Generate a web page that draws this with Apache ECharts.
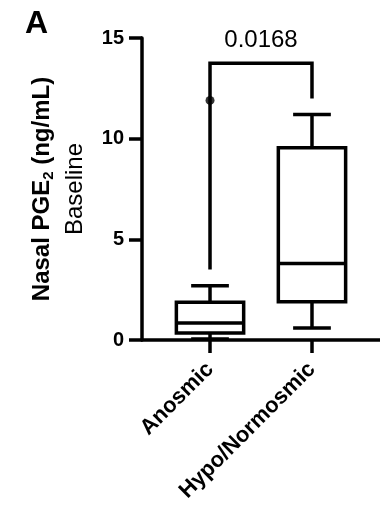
<!DOCTYPE html>
<html>
<head>
<meta charset="utf-8">
<script src="https://cdn.jsdelivr.net/npm/echarts@6/dist/echarts.min.js"></script>
<style>
  html, body { margin: 0; padding: 0; background: #fff; }
  #chart { width: 380px; height: 506px; }
</style>
</head>
<body>
<div id="chart"></div>
<script>
// groups on the x axis (0 = Anosmic, 1 = Hypo/Normosmic)
var categories = ['Anosmic', 'Hypo/Normosmic'];
var groupPos = [0, 1];

// box plot values
var boxMin    = [0.05, 0.6];
var boxQ1     = [0.35, 1.9];
var boxMedian = [0.85, 3.8];
var boxQ3     = [1.88, 9.55];
var boxMax    = [2.7, 11.2];

// single outlier in the Anosmic group
var outliers = [[0, 11.9]];

// significance bracket: left leg end, bar height, right leg end
var bracketLeft = 3.5;
var bracketTop = 13.75;
var bracketRight = 12.0;
var pValueText = '0.0168';
var pValueY = 14.9;

var yTicks = [0, 5, 10, 15];

var FONT = '"Liberation Sans", Arial, sans-serif';
var BOX_W = 0.66;
var CAP_W = 0.37;
var LW = 3.5;

var boxData = [];
for (var i = 0; i < categories.length; i++) {
    boxData.push([groupPos[i], boxMin[i], boxQ1[i], boxMedian[i], boxQ3[i], boxMax[i]]);
}

function line(p1, p2) {
    return {
        type: 'line',
        shape: { x1: p1[0], y1: p1[1], x2: p2[0], y2: p2[1] },
        style: { stroke: '#000', lineWidth: LW }
    };
}

function renderBox(params, api) {
    var x = api.value(0);
    var pMin = api.coord([x, api.value(1)]);
    var pQ1 = api.coord([x, api.value(2)]);
    var pMed = api.coord([x, api.value(3)]);
    var pQ3 = api.coord([x, api.value(4)]);
    var pMax = api.coord([x, api.value(5)]);
    var half = api.size([BOX_W, 0])[0] / 2;
    var cap = api.size([CAP_W, 0])[0] / 2;
    var cx = pMed[0];
    return {
        type: 'group',
        children: [
            line(pQ3, pMax),
            line([cx - cap, pMax[1]], [cx + cap, pMax[1]]),
            line(pQ1, pMin),
            line([cx - cap, pMin[1]], [cx + cap, pMin[1]]),
            {
                type: 'rect',
                shape: { x: cx - half, y: pQ3[1], width: half * 2, height: pQ1[1] - pQ3[1] },
                style: { fill: '#fff', stroke: '#000', lineWidth: LW }
            },
            line([cx - half, pMed[1]], [cx + half, pMed[1]])
        ]
    };
}

function renderBracket(params, api) {
    var a = api.coord([groupPos[0], bracketLeft]);
    var b = api.coord([groupPos[0], bracketTop]);
    var c = api.coord([groupPos[1], bracketTop]);
    var d = api.coord([groupPos[1], bracketRight]);
    var t = api.coord([(groupPos[0] + groupPos[1]) / 2, pValueY]);
    return {
        type: 'group',
        children: [
            {
                type: 'polyline',
                shape: { points: [a, b, c, d] },
                style: { fill: 'none', stroke: '#000', lineWidth: LW }
            },
            {
                type: 'text',
                x: t[0], y: t[1],
                style: {
                    text: pValueText, fill: '#000', font: '24px ' + FONT,
                    align: 'center', verticalAlign: 'middle'
                }
            }
        ]
    };
}

var chart = echarts.init(document.getElementById('chart'));

var option = {
    animation: false,
    backgroundColor: '#fff',
    title: {
        text: 'A',
        left: 25,
        top: 8,
        padding: 0,
        textStyle: { fontFamily: FONT, fontSize: 32, fontWeight: 'bold', color: '#000' }
    },
    grid: { left: 142, right: 0, top: 38, bottom: 166 },
    xAxis: {
        type: 'value',
        min: -0.667,
        max: 1.667,
        splitLine: { show: false },
        axisLine: { show: true, onZero: false, lineStyle: { color: '#000', width: LW } },
        axisTick: { show: true, customValues: groupPos, length: 13, lineStyle: { color: '#000', width: LW } },
        axisLabel: {
            customValues: groupPos,
            rotate: 45,
            margin: 26,
            color: '#000',
            fontFamily: FONT,
            fontSize: 22,
            fontWeight: 'bold',
            formatter: function (v) {
                var idx = groupPos.indexOf(Math.round(v));
                return idx >= 0 ? categories[idx] : '';
            }
        }
    },
    yAxis: {
        type: 'value',
        min: 0,
        max: 15,
        interval: 5,
        splitLine: { show: false },
        axisLine: { show: true, onZero: false, lineStyle: { color: '#000', width: LW } },
        axisTick: { show: true, length: 13, lineStyle: { color: '#000', width: LW } },
        axisLabel: {
            customValues: yTicks,
            margin: 18,
            color: '#000',
            fontFamily: FONT,
            fontSize: 20,
            fontWeight: 'bold'
        },
        name: '{b|Nasal PGE}{s|2}{b| (ng/mL)}\n{r|Baseline}',
        nameLocation: 'middle',
        nameRotate: 90,
        nameGap: 50,
        nameTextStyle: {
            color: '#000',
            fontFamily: FONT,
            rich: {
                b: { fontFamily: FONT, fontSize: 24, fontWeight: 'bold', color: '#000', lineHeight: 33 },
                s: { fontFamily: FONT, fontSize: 15, fontWeight: 'bold', color: '#000', lineHeight: 33, padding: [12, 0, 0, 0] },
                r: { fontFamily: FONT, fontSize: 24, color: '#000', lineHeight: 33 }
            }
        }
    },
    series: [
        {
            type: 'custom',
            name: 'box',
            renderItem: renderBox,
            data: boxData,
            encode: { x: 0, y: [1, 2, 3, 4, 5] },
            clip: false,
            z: 3
        },
        {
            type: 'custom',
            name: 'bracket',
            renderItem: renderBracket,
            data: [[0.5, bracketTop]],
            clip: false,
            z: 2
        },
        {
            type: 'scatter',
            name: 'outlier',
            data: outliers,
            symbol: 'circle',
            symbolSize: 9,
            itemStyle: { color: '#000' },
            z: 4
        }
    ]
};

chart.setOption(option);
</script>
</body>
</html>
